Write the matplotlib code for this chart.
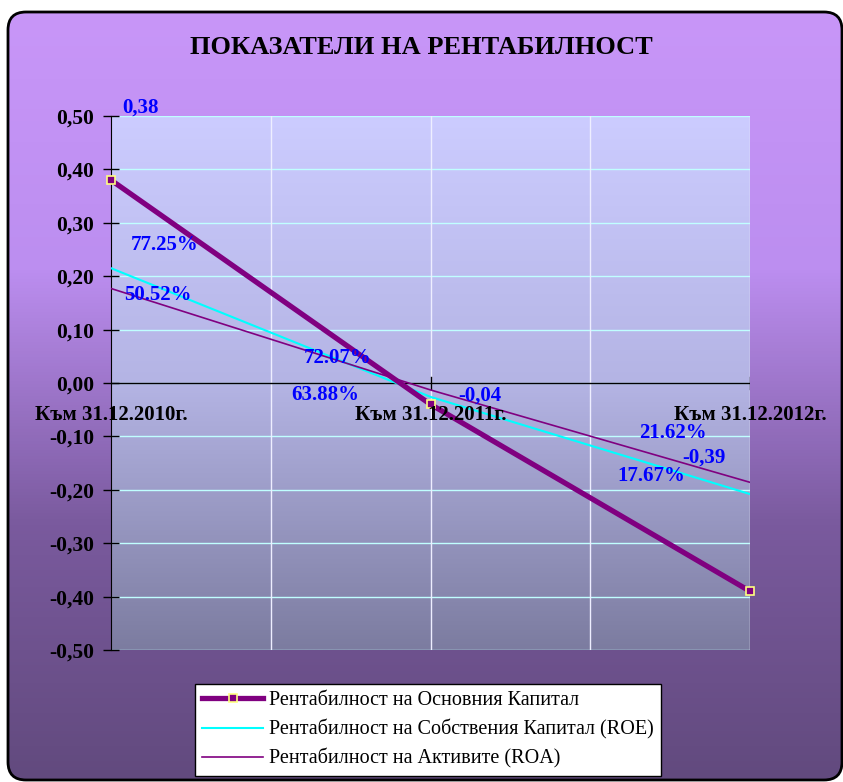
import numpy as np
import matplotlib
matplotlib.use('Agg')
import matplotlib.pyplot as plt
from matplotlib.patches import FancyBboxPatch
from matplotlib.colors import LinearSegmentedColormap

# categories and series
categories = ['Към 31.12.2010г.', 'Към 31.12.2011г.', 'Към 31.12.2012г.']
basic_capital = [0.38, -0.04, -0.39]
roe = [0.215, -0.026, -0.208]
roa = [0.177, -0.013, -0.186]

# data labels as shown in the chart
basic_labels = ['0,38', '-0,04', '-0,39']
roe_labels = ['77.25%', '72.07%', '17.67%']
roa_labels = ['50.52%', '63.88%', '21.62%']

yticks = [0.5, 0.4, 0.3, 0.2, 0.1, 0.0, -0.1, -0.2, -0.3, -0.4, -0.5]

serif = ['Liberation Serif', 'DejaVu Serif']
W, H = 843, 782
fig = plt.figure(figsize=(W / 100, H / 100), dpi=100)
fig.patch.set_facecolor('white')

# outer rounded gradient frame
bg = fig.add_axes([0, 0, 1, 1])
bg.set_xlim(0, W)
bg.set_ylim(H, 0)
bg.axis('off')
frame_cmap = LinearSegmentedColormap.from_list('frame', ['#c896f8', '#bc8ef0', '#7a5a9e', '#624a7e'])
grad = np.linspace(0, 1, 256).reshape(-1, 1)
img = bg.imshow(grad, cmap=frame_cmap, aspect='auto', extent=[8, 842, 780, 12], zorder=0)
box = FancyBboxPatch((8, 12), 834, 768, boxstyle='round,pad=0,rounding_size=18',
                     facecolor='none', edgecolor='black', linewidth=2, zorder=1)
bg.add_patch(box)
img.set_clip_path(box)

# plot area
ax = fig.add_axes([111 / W, 1 - 650 / H, (750 - 111) / W, (650 - 116) / H])
ax.set_xlim(0, 2)
ax.set_ylim(-0.5, 0.5)
area_cmap = LinearSegmentedColormap.from_list('area', ['#ccccff', '#b4b4e4', '#7c7ca0'])
ax.imshow(grad, cmap=area_cmap, aspect='auto', extent=[0, 2, -0.5, 0.5], zorder=0)

for y in yticks:
    ax.axhline(y, color='#c0ffff', linewidth=1, zorder=1)
for x in [0.5, 1.0, 1.5, 2.0]:
    ax.axvline(x, color='#eeeeff', linewidth=1, zorder=1)
ax.axhline(0, color='black', linewidth=1, zorder=2)
for x in [1.0, 2.0]:
    ax.plot([x, x], [-0.012, 0.012], color='black', linewidth=1, zorder=2)

xs = np.arange(len(categories))
ax.plot(xs, basic_capital, color='#800080', linewidth=3.8, marker='s', markersize=6,
        markerfacecolor='#800080', markeredgecolor='#ffff80', markeredgewidth=1.2,
        label='Рентабилност на Основния Капитал', zorder=5, clip_on=False)
ax.plot(xs, roe, color='#00ffff', linewidth=1.5, label='Рентабилност на Собствения Капитал (ROE)', zorder=4)
ax.plot(xs, roa, color='#800080', linewidth=1.2, label='Рентабилност на Активите (ROA)', zorder=4)

# data labels
lab = dict(color='#0000ff', fontsize=15, fontweight='bold', family=serif, zorder=6)
ax.text(0.034, 0.515, basic_labels[0], ha='left', va='center', clip_on=False, **lab)
ax.text(1.155, -0.024, basic_labels[1], ha='center', va='center', **lab)
ax.text(1.856, -0.139, basic_labels[2], ha='center', va='center', **lab)
ax.text(0.169, 0.258, roe_labels[0], ha='center', va='center', **lab)
ax.text(0.710, 0.047, roe_labels[1], ha='center', va='center', **lab)
ax.text(1.690, -0.174, roe_labels[2], ha='center', va='center', **lab)
ax.text(0.147, 0.165, roa_labels[0], ha='center', va='center', **lab)
ax.text(0.670, -0.022, roa_labels[1], ha='center', va='center', **lab)
ax.text(1.759, -0.094, roa_labels[2], ha='center', va='center', **lab)

# category labels below zero line
for x, c in zip(xs, categories):
    ax.text(x, -0.059, c, ha='center', va='center', fontsize=15, fontweight='bold',
            family=serif, color='black', zorder=6, clip_on=False)

ax.set_xticks([])
ax.set_yticks(yticks)
ax.set_yticklabels([('%.2f' % v).replace('.', ',') for v in yticks],
                   fontsize=15.5, fontweight='bold', family=serif)
ax.tick_params(axis='y', direction='inout', length=12, width=1, pad=6)
for s in ['top', 'right', 'bottom']:
    ax.spines[s].set_visible(False)
ax.spines['left'].set_color('black')

fig.text(0.5, 1 - 47 / H, 'ПОКАЗАТЕЛИ НА РЕНТАБИЛНОСТ', ha='center', va='center',
         fontsize=19, fontweight='bold', family=serif)

leg = fig.legend(loc='center', bbox_to_anchor=(428 / W, 1 - 730 / H),
                 prop={'family': serif, 'size': 14.5}, frameon=True, fancybox=False,
                 edgecolor='black', facecolor='white', framealpha=1,
                 handlelength=3.0, handletextpad=0.3, labelspacing=0.45, borderpad=0.35)
leg.get_frame().set_linewidth(1)

fig.savefig('out.png', dpi=100)
